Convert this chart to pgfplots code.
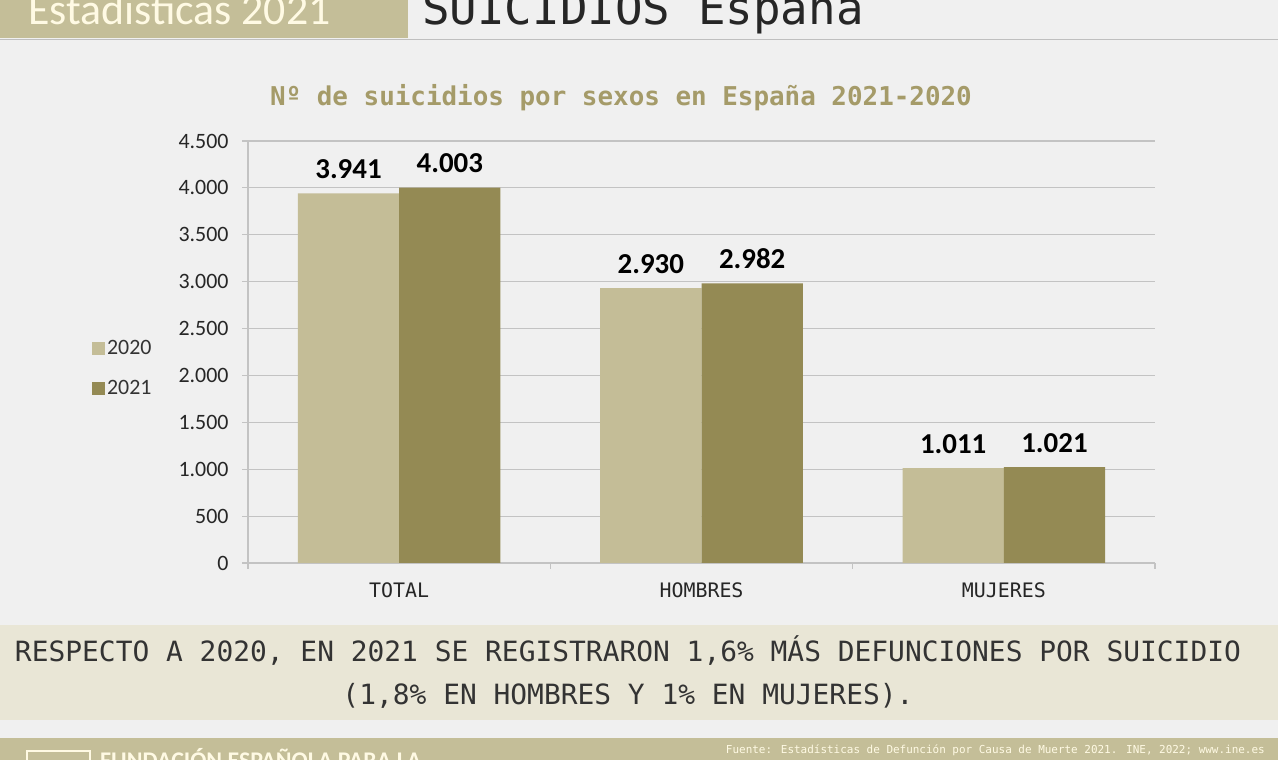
\documentclass[border=0pt]{standalone}
\usepackage{pgfplots}
\pgfplotsset{compat=1.18}
\usepackage{fontspec}
\setmainfont{Carlito}
\newfontfamily\mono{DejaVu Sans Mono}
\definecolor{bg}{RGB}{240,240,240}
\definecolor{light}{RGB}{196,189,151}
\definecolor{dark}{RGB}{148,138,84}
\definecolor{titlec}{RGB}{165,155,105}
\definecolor{band}{RGB}{233,230,214}
\definecolor{khaki}{RGB}{196,190,152}
\definecolor{cream}{RGB}{255,250,228}
\definecolor{gridc}{RGB}{195,195,195}
\begin{document}
\begin{tikzpicture}[x=1bp,y=1bp]
\useasboundingbox (0,0) rectangle (1278,760);
\begin{scope}
\clip (0,0) rectangle (1278,760);
\fill[bg] (0,0) rectangle (1278,760);
% header
\fill[khaki] (0,722) rectangle (408,760);
\draw[gray!50, line width=1bp] (0,720) -- (1278,720);
\node[anchor=base west, text=cream, font=\fontsize{44}{44}\selectfont, inner sep=0] at (28,735) {Estadísticas 2021};
\node[anchor=base west, text=black!85, font=\mono\fontsize{46}{46}\selectfont, inner sep=0] at (422,735) {SUICIDIOS España};
% title
\node[anchor=base, text=titlec, font=\mono\bfseries\fontsize{26}{26}\selectfont, inner sep=0] at (621,654) {Nº de suicidios por sexos en España 2021-2020};
% footer band
\fill[band] (0,40) rectangle (1278,135);
\node[anchor=base, font=\mono\fontsize{28}{28}\selectfont, text=black!80, inner sep=0] at (628,98) {RESPECTO A 2020, EN 2021 SE REGISTRARON 1,6\% MÁS DEFUNCIONES POR SUICIDIO};
\node[anchor=base, font=\mono\fontsize{28}{28}\selectfont, text=black!80, inner sep=0] at (628,55) {(1,8\% EN HOMBRES Y 1\% EN MUJERES).};
% bottom band
\fill[khaki] (0,0) rectangle (1278,22);
\draw[cream, line width=2bp] (27,-5) rectangle (90,9);
\node[anchor=base west, font=\bfseries\fontsize{24}{24}\selectfont, text=cream, inner sep=0] at (100,-9) {FUNDACIÓN ESPAÑOLA PARA LA};
\node[anchor=base east, font=\mono\fontsize{11}{11}\selectfont, text=cream, inner sep=0] at (1265,6) {Fuente: Estadísticas de Defunción por Causa de Muerte 2021. INE, 2022; www.ine.es};
\end{scope}
\begin{axis}[
  at={(248bp,197bp)}, anchor=south west, scale only axis,
  width=907bp, height=422bp,
  ybar=0pt, bar width=0.335,
  xmin=-0.5, xmax=2.5, ymin=0, ymax=4500,
  ytick={0,500,...,4500},
  ymajorgrids, grid style={gridc, line width=1.2bp},
  axis x line*=bottom, axis y line*=left,
  axis line style={gridc, line width=1.2bp},
  tick align=outside,
  major tick length=6bp,
  tick style={gridc, line width=1.2bp},
  xtick={-0.5,0.5,1.5,2.5}, xticklabels={},
  extra x ticks={0,1,2},
  extra x tick labels={TOTAL,HOMBRES,MUJERES},
  extra x tick style={major tick length=0pt, xticklabel style={font=\mono\fontsize{20}{20}\selectfont, text=black!85, yshift=-16bp}},
  yticklabel style={font=\fontsize{22}{22}\selectfont, text=black!85, xshift=-10bp},
  /pgf/number format/1000 sep={.},
  /pgf/number format/assume math mode=true,
  nodes near coords,
  nodes near coords style={font=\bfseries\fontsize{29}{29}\selectfont, text=black, yshift=11bp},
  legend style={at={(-0.138,0.462)}, anchor=center, draw=none, fill=none, font=\fontsize{22}{22}\selectfont, text=black!80, row sep=20bp, inner sep=0pt},
  legend cell align=left,
  legend image code/.code={\fill[#1] (0bp,-7bp) rectangle (13bp,6bp);},
]
\addplot[fill=light, draw=none] coordinates {(0,3941) (1,2930) (2,1011)};
\addplot[fill=dark, draw=none] coordinates {(0,4003) (1,2982) (2,1021)};
\legend{2020,2021}
\end{axis}
\end{tikzpicture}
\end{document}
